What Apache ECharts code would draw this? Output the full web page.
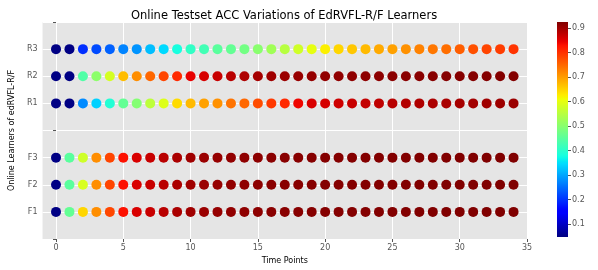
<!DOCTYPE html>
<html><head><meta charset="utf-8">
<script src="https://cdn.jsdelivr.net/npm/echarts@6/dist/echarts.min.js"></script>
<style>html,body{margin:0;padding:0;background:#fff}#c{width:598px;height:270px}</style>
</head><body><div id="c"></div>
<script>
const timePoints = [0,1,2,3,4,5,6,7,8,9,10,11,12,13,14,15,16,17,18,19,20,21,22,23,24,25,26,27,28,29,30,31,32,33,34];
const yTickLabels = ['', 'F1', 'F2', 'F3', '', 'R1', 'R2', 'R3', ''];
const learners = ['F1', 'F2', 'F3', 'R1', 'R2', 'R3'];
const learnerRows = [1, 2, 3, 5, 6, 7];
const xTicks = [0, 5, 10, 15, 20, 25, 30, 35];
const cbTicks = [0.1, 0.2, 0.3, 0.4, 0.5, 0.6, 0.7, 0.8, 0.9];
const accF1 = [0.05,0.46,0.647,0.714,0.78,0.83,0.857,0.87,0.881,0.892,0.9,0.905,0.908,0.911,0.913,0.915,0.917,0.918,0.919,0.92,0.921,0.921,0.922,0.922,0.923,0.923,0.923,0.924,0.924,0.924,0.924,0.925,0.925,0.925,0.925];
const accF2 = [0.05,0.45,0.585,0.714,0.782,0.83,0.857,0.87,0.881,0.892,0.9,0.905,0.908,0.911,0.913,0.915,0.917,0.918,0.919,0.92,0.921,0.921,0.922,0.922,0.923,0.923,0.923,0.924,0.924,0.924,0.924,0.925,0.925,0.925,0.925];
const accF3 = [0.05,0.45,0.574,0.714,0.782,0.83,0.857,0.87,0.881,0.892,0.9,0.905,0.908,0.911,0.913,0.915,0.917,0.918,0.919,0.92,0.921,0.921,0.922,0.922,0.923,0.923,0.923,0.924,0.924,0.924,0.924,0.925,0.925,0.925,0.925];
const accR1 = [0.05,0.05,0.275,0.337,0.39,0.46,0.495,0.556,0.59,0.642,0.673,0.697,0.711,0.739,0.75,0.776,0.793,0.808,0.84,0.857,0.86,0.866,0.87,0.874,0.877,0.882,0.886,0.889,0.891,0.893,0.896,0.898,0.9,0.902,0.904];
const accR2 = [0.05,0.05,0.44,0.504,0.58,0.67,0.714,0.75,0.782,0.808,0.846,0.859,0.87,0.881,0.89,0.896,0.9,0.904,0.907,0.909,0.911,0.912,0.913,0.914,0.915,0.916,0.917,0.918,0.919,0.92,0.92,0.921,0.922,0.922,0.923];
const accR3 = [0.05,0.05,0.196,0.22,0.24,0.27,0.284,0.32,0.345,0.38,0.407,0.425,0.45,0.46,0.477,0.5,0.525,0.55,0.575,0.6,0.623,0.647,0.661,0.673,0.688,0.697,0.711,0.725,0.735,0.744,0.758,0.772,0.782,0.789,0.798];
const accAll = [accF1, accF2, accF3, accR1, accR2, accR3];
const cMin = 0.047, cMax = 0.925;

function seg(pts, t){
  for (let i = 1; i < pts.length; i++) {
    if (t <= pts[i][0]) {
      const a = pts[i-1], b = pts[i];
      return a[1] + (b[1]-a[1]) * (t-a[0]) / (b[0]-a[0]);
    }
  }
  return pts[pts.length-1][1];
}
function jet(t){
  const r = seg([[0,0],[0.35,0],[0.66,1],[0.89,1],[1,0.5]], t);
  const g = seg([[0,0],[0.125,0],[0.375,1],[0.64,1],[0.91,0],[1,0]], t);
  const b = seg([[0,0.5],[0.11,1],[0.34,1],[0.65,0],[1,0]], t);
  return 'rgb(' + Math.round(r*255) + ',' + Math.round(g*255) + ',' + Math.round(b*255) + ')';
}
const jetColors = [];
const gradStops = [];
for (let i = 0; i <= 100; i++) {
  jetColors.push(jet(i/100));
  gradStops.push({ offset: i/100, color: jet(1 - i/100) });
}

const font = 'DejaVu Sans';
const series = learners.map((name, k) => ({
  name: name, type: 'scatter', symbolSize: 10, xAxisIndex: 0, yAxisIndex: 0,
  data: timePoints.map((t, i) => [t, learnerRows[k], accAll[k][i]]),
  itemStyle: { opacity: 1 }
}));
// colorbar: a stacked bar spanning [cMin, cMax] filled with the jet gradient
series.push({ type: 'bar', xAxisIndex: 1, yAxisIndex: 1, stack: 'cb', barWidth: '100%', silent: true,
  data: [cMin], itemStyle: { color: 'rgba(0,0,0,0)' } });
series.push({ type: 'bar', xAxisIndex: 1, yAxisIndex: 1, stack: 'cb', barWidth: '100%', silent: true,
  data: [cMax - cMin], itemStyle: { color: new echarts.graphic.LinearGradient(0, 0, 0, 1, gradStops), borderRadius: 0 } });

const chart = echarts.init(document.getElementById('c'), null, { renderer: 'canvas' });
chart.setOption({
  animation: false,
  backgroundColor: '#ffffff',
  title: { text: 'Online Testset ACC Variations of EdRVFL-R/F Learners', left: 279, textAlign: 'center', top: 5,
    textStyle: { fontFamily: font, fontSize: 11.5, fontWeight: 'normal', color: '#000' } },
  grid: [
    { left: 39, right: 71, top: 22, bottom: 31, show: true, backgroundColor: '#E5E5E5', borderWidth: 0 },
    { left: 557, top: 22, width: 11, height: 215, show: false }
  ],
  xAxis: [
    { type: 'value', gridIndex: 0, min: -1, max: 35,
      name: 'Time Points', nameLocation: 'middle', nameGap: 18,
      nameTextStyle: { fontFamily: font, fontSize: 8, color: '#000' },
      axisLine: { show: false },
      axisTick: { show: true, length: 3, lineStyle: { color: '#555' }, customValues: xTicks },
      axisLabel: { customValues: xTicks, fontFamily: font, fontSize: 8, color: '#555', margin: 5 },
      splitLine: { show: true, lineStyle: { color: '#fff', width: 1 } } },
    { type: 'category', gridIndex: 1, data: ['cb'], show: false, boundaryGap: true }
  ],
  yAxis: [
    { type: 'value', gridIndex: 0, min: 0, max: 8, interval: 1,
      name: 'Online Learners of edRVFL-R/F', nameLocation: 'middle', nameGap: 23, nameRotate: 90,
      nameTextStyle: { fontFamily: font, fontSize: 8, color: '#000' },
      axisLine: { show: false },
      axisTick: { show: true, length: 3, lineStyle: { color: '#555' } },
      axisLabel: { fontFamily: font, fontSize: 8, color: '#555', margin: 5,
        formatter: v => yTickLabels[Math.round(v)] },
      splitLine: { show: true, lineStyle: { color: '#fff', width: 1 } } },
    { type: 'value', gridIndex: 1, position: 'right', min: cMin, max: cMax,
      axisLine: { show: false },
      axisTick: { show: true, length: 3, lineStyle: { color: '#555' }, customValues: cbTicks },
      axisLabel: { customValues: cbTicks, fontFamily: font, fontSize: 8, color: '#555', margin: 4,
        formatter: v => v.toFixed(1) },
      splitLine: { show: false } }
  ],
  visualMap: {
    type: 'continuous', min: cMin, max: cMax, dimension: 2, seriesIndex: [0,1,2,3,4,5],
    show: false, inRange: { color: jetColors }
  },
  series: series
});
</script></body></html>
